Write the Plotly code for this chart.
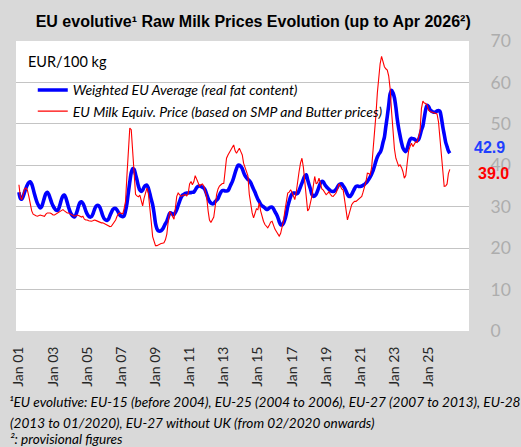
import pandas as pd
import plotly.graph_objects as go

# ---- Weighted EU Average (real fat content), EUR/100 kg, monthly Jan 2001 - Apr 2026
blue_2001 = [33.5, 32.0, 31.8, 32.5, 33.5, 34.5, 35.3, 35.8, 36.0, 35.5, 34.3, 33.0]
blue_2002 = [31.8, 30.8, 30.2, 29.7, 30.0, 31.0, 32.2, 33.2, 33.5, 33.0, 32.0, 31.0]
blue_2003 = [30.2, 29.6, 29.2, 29.1, 29.5, 30.6, 31.8, 32.6, 32.8, 32.2, 31.0, 29.8]
blue_2004 = [28.8, 28.1, 27.7, 27.5, 28.0, 29.0, 30.2, 31.0, 31.2, 30.8, 30.0, 29.0]
blue_2005 = [28.2, 27.7, 27.5, 27.6, 28.2, 29.2, 30.0, 30.3, 30.3, 29.8, 28.8, 27.8]
blue_2006 = [27.1, 26.8, 26.7, 27.0, 27.8, 28.6, 29.3, 29.6, 29.6, 29.2, 28.6, 28.0]
blue_2007 = [27.7, 27.6, 27.8, 29.0, 30.8, 33.5, 36.0, 38.2, 39.2, 39.0, 37.8, 36.5]
blue_2008 = [35.0, 34.0, 33.7, 34.0, 34.7, 35.1, 35.2, 34.5, 33.2, 31.8, 30.5, 28.5]
blue_2009 = [26.0, 24.7, 24.2, 24.1, 24.2, 24.6, 25.2, 25.9, 26.5, 27.5, 28.4, 28.5]
blue_2010 = [28.2, 28.1, 28.6, 29.3, 30.3, 31.3, 32.2, 32.8, 33.0, 33.2, 33.3, 33.3]
blue_2011 = [33.4, 33.4, 33.5, 33.5, 34.0, 34.6, 34.9, 35.0, 34.9, 34.7, 34.5, 34.0]
blue_2012 = [33.0, 32.0, 31.3, 30.9, 30.7, 30.8, 31.2, 31.6, 32.0, 32.8, 33.5, 33.9]
blue_2013 = [33.9, 33.8, 33.8, 33.9, 34.5, 35.3, 36.0, 37.0, 38.2, 39.2, 40.0, 40.0]
blue_2014 = [39.7, 39.2, 38.3, 37.5, 37.0, 36.6, 36.3, 35.8, 35.0, 34.2, 33.5, 32.6]
blue_2015 = [31.8, 31.2, 30.6, 30.2, 30.0, 29.7, 29.4, 29.4, 29.7, 29.9, 29.9, 29.5]
blue_2016 = [28.8, 28.2, 27.5, 26.4, 25.7, 25.6, 26.0, 26.9, 28.3, 30.0, 31.3, 32.4]
blue_2017 = [33.1, 33.3, 33.3, 33.1, 33.2, 33.9, 34.8, 35.7, 36.6, 37.4, 37.7, 36.5]
blue_2018 = [35.3, 34.2, 33.0, 32.5, 32.6, 33.0, 33.8, 34.8, 35.7, 36.1, 36.0, 35.4]
blue_2019 = [34.9, 34.5, 34.2, 33.9, 33.7, 33.7, 33.8, 34.2, 34.8, 35.3, 35.5, 35.5]
blue_2020 = [35.0, 34.5, 33.8, 33.0, 32.5, 32.5, 33.0, 33.7, 34.4, 34.9, 35.0, 34.9]
blue_2021 = [34.9, 35.0, 35.2, 35.4, 35.7, 36.1, 36.6, 37.2, 37.9, 38.7, 39.8, 41.0]
blue_2022 = [42.0, 42.7, 43.1, 44.0, 45.5, 46.8, 49.3, 51.8, 54.5, 57.2, 58.1, 57.5]
blue_2023 = [56.3, 54.0, 51.3, 49.0, 47.2, 45.5, 44.2, 43.6, 43.3, 44.0, 45.3, 46.2]
blue_2024 = [46.5, 46.4, 46.3, 46.0, 45.9, 46.2, 47.2, 48.5, 49.5, 51.5, 53.5, 54.5]
blue_2025 = [54.2, 53.4, 53.1, 52.9, 52.8, 52.9, 53.1, 53.2, 53.0, 51.5, 49.3, 47.5]
blue_2026 = [45.6, 44.5, 43.5, 42.9]

# ---- EU Milk Equiv. Price (based on SMP and Butter prices), EUR/100 kg
red_2001 = [35.3, 32.3, 31.7, 33.5, 34.3, 34.5, 34.0, 32.5, 30.5, 29.0, 28.2, 27.9]
red_2002 = [27.8, 27.7, 27.9, 28.0, 27.9, 27.7, 27.7, 28.2, 28.5, 28.5, 28.5, 28.3]
red_2003 = [28.0, 28.0, 28.2, 28.5, 28.6, 28.9, 29.2, 29.3, 29.0, 28.7, 28.5, 28.5]
red_2004 = [28.3, 28.2, 28.0, 27.7, 27.8, 28.0, 27.9, 27.7, 27.5, 27.7, 27.0, 26.8]
red_2005 = [26.8, 26.6, 26.5, 26.5, 26.6, 26.8, 26.7, 26.5, 26.4, 26.3, 26.1, 26.1]
red_2006 = [25.9, 25.7, 25.6, 25.4, 25.2, 25.3, 25.8, 26.2, 26.8, 27.7, 28.3, 28.5]
red_2007 = [28.3, 28.3, 29.5, 31.3, 37.5, 44.5, 49.0, 48.6, 43.0, 37.0, 33.0, 32.6]
red_2008 = [32.4, 32.8, 31.2, 30.2, 32.0, 33.3, 34.5, 33.2, 30.5, 26.5, 22.8, 21.5]
red_2009 = [20.6, 20.6, 20.8, 21.0, 21.1, 21.2, 21.3, 22.0, 23.4, 26.5, 28.9, 28.3]
red_2010 = [27.8, 27.0, 29.5, 32.5, 33.3, 33.0, 32.5, 32.7, 32.9, 32.9, 32.6, 33.2]
red_2011 = [35.5, 36.1, 35.3, 36.0, 37.5, 36.5, 35.5, 35.0, 35.3, 35.5, 35.0, 33.8]
red_2012 = [32.3, 29.0, 26.8, 26.2, 26.8, 27.5, 30.0, 33.0, 34.3, 35.0, 35.3, 35.6]
red_2013 = [35.6, 38.5, 41.7, 42.5, 43.0, 43.5, 44.3, 44.9, 43.5, 42.9, 43.7, 44.1]
red_2014 = [43.3, 42.5, 40.5, 39.5, 38.5, 37.5, 33.0, 30.5, 28.5, 27.3, 28.5, 29.5]
red_2015 = [29.3, 30.9, 29.0, 27.3, 26.5, 25.7, 25.3, 24.9, 25.5, 26.3, 26.5, 25.5]
red_2016 = [24.6, 24.0, 23.3, 22.9, 23.5, 24.9, 26.5, 29.0, 31.5, 33.3, 33.5, 34.1]
red_2017 = [33.5, 32.3, 31.7, 33.5, 36.5, 38.5, 40.5, 41.7, 39.5, 36.5, 32.5, 29.0]
red_2018 = [29.5, 31.0, 32.5, 35.0, 37.3, 35.5, 35.8, 36.9, 35.5, 34.3, 34.0, 33.3]
red_2019 = [32.9, 33.2, 33.6, 33.0, 32.6, 32.5, 32.8, 33.3, 34.2, 35.5, 35.0, 34.3]
red_2020 = [34.0, 32.0, 29.3, 26.8, 28.0, 29.8, 30.5, 31.0, 31.3, 31.3, 31.6, 32.0]
red_2021 = [32.1, 32.5, 33.5, 34.5, 36.0, 38.1, 38.0, 37.7, 39.5, 43.7, 47.5, 52.1]
red_2022 = [57.5, 62.0, 64.5, 66.3, 65.0, 63.8, 63.3, 63.0, 61.5, 58.5, 53.0, 47.5]
red_2023 = [44.0, 41.7, 40.8, 39.8, 40.1, 39.5, 38.5, 36.9, 37.5, 40.1, 43.5, 44.5]
red_2024 = [45.3, 44.5, 45.0, 45.7, 45.5, 47.3, 48.1, 53.7, 55.5, 55.0, 54.9, 54.5]
red_2025 = [53.3, 53.0, 52.9, 52.7, 52.6, 52.5, 52.4, 50.5, 46.5, 42.5, 37.7, 34.9]
red_2026 = [35.0, 35.5, 38.0, 39.0]

# ---- tick years (labels "Jan 01" ... "Jan 25") and texts
tick_years = [2001, 2003, 2005, 2007, 2009, 2011, 2013, 2015, 2017, 2019, 2021, 2023, 2025]
series_blue_name = "Weighted EU Average (real fat content)"
series_red_name = "EU Milk Equiv. Price (based on SMP and Butter prices)"
title_text = "EU evolutive\u00b9 Raw Milk Prices Evolution (up to Apr 2026\u00b2)"
unit_text = "EUR/100 kg"
footnote_1 = "\u00b9EU evolutive: EU-15 (before 2004), EU-25 (2004 to 2006), EU-27 (2007 to 2013), EU-28"
footnote_2 = "(2013 to 01/2020), EU-27 without UK (from 02/2020 onwards)"
footnote_3 = "\u00b2: provisional figures"

blue = sum([blue_2001, blue_2002, blue_2003, blue_2004, blue_2005, blue_2006, blue_2007,
            blue_2008, blue_2009, blue_2010, blue_2011, blue_2012, blue_2013, blue_2014,
            blue_2015, blue_2016, blue_2017, blue_2018, blue_2019, blue_2020, blue_2021,
            blue_2022, blue_2023, blue_2024, blue_2025, blue_2026], [])
red = sum([red_2001, red_2002, red_2003, red_2004, red_2005, red_2006, red_2007,
           red_2008, red_2009, red_2010, red_2011, red_2012, red_2013, red_2014,
           red_2015, red_2016, red_2017, red_2018, red_2019, red_2020, red_2021,
           red_2022, red_2023, red_2024, red_2025, red_2026], [])
months = pd.date_range("2001-01-01", periods=len(blue), freq="MS")
tick_dates = ["%d-01-01" % y for y in tick_years]

CAL = "Lato, 'Open Sans', sans-serif"
ARIAL = "'Liberation Sans', Arial, sans-serif"

fig = go.Figure()
fig.add_trace(go.Scatter(x=months, y=blue, mode="lines", name="<i>" + series_blue_name + "</i>",
                         line=dict(color="#0000FF", width=3.6, shape="spline", smoothing=0.8)))
fig.add_trace(go.Scatter(x=months, y=red, mode="lines", name="<i>" + series_red_name + "</i>",
                         line=dict(color="#FF0000", width=1.1)))

fig.update_layout(
    width=521, height=447,
    margin=dict(l=10, r=52, t=41, b=116),
    paper_bgcolor="#D9D9D9", plot_bgcolor="#FFFFFF",
    title=dict(text="<b>" + title_text + "</b>", x=0.486, xref="container", xanchor="center",
               y=0.952, yref="container", yanchor="middle",
               font=dict(family=ARIAL, size=16, color="#000000")),
    showlegend=True,
    legend=dict(x=0.037, y=0.885, xanchor="left", yanchor="top", bgcolor="rgba(0,0,0,0)",
                font=dict(family=CAL, size=14, color="#000000"), itemwidth=30, tracegroupgap=0),
    xaxis=dict(type="date", range=["2000-10-30", "2027-05-16"], tickmode="array",
               tickvals=tick_dates, tickformat="%b %y", tickangle=-90, showgrid=False,
               zeroline=False, showline=False, ticks="outside", ticklen=9,
               tickcolor="rgba(0,0,0,0)", tickfont=dict(family=CAL, size=14, color="#262626")),
    yaxis=dict(range=[0, 70], dtick=10, side="right", showgrid=True, gridcolor="#C4C4C4",
               gridwidth=1.3, zeroline=False, showline=False, ticks="outside", ticklen=17,
               tickcolor="rgba(0,0,0,0)", tickfont=dict(family=CAL, size=17.5, color="#ADADAD")),
)

ann = [
    dict(text=unit_text, xref="paper", yref="paper", x=0.022, y=0.9276, xanchor="left", yanchor="middle",
         showarrow=False, font=dict(family=CAL, size=14.5, color="#000000")),
    dict(text="<b>%.1f</b>" % blue[-1], xref="paper", yref="y", x=1.006, y=44.2, xanchor="left",
         yanchor="middle", showarrow=False, font=dict(family=ARIAL, size=16, color="#1F3FFF")),
    dict(text="<b>%.1f</b>" % red[-1], xref="paper", yref="y", x=1.015, y=38.0, xanchor="left",
         yanchor="middle", showarrow=False, font=dict(family=ARIAL, size=16, color="#FF0000")),
    dict(text="<i>" + footnote_1 + "</i>", xref="paper", yref="paper", x=-0.0196, y=-0.246,
         xanchor="left", yanchor="middle", showarrow=False,
         font=dict(family=CAL, size=13.6, color="#000000")),
    dict(text="<i>" + footnote_2 + "</i>", xref="paper", yref="paper", x=-0.0174, y=-0.317,
         xanchor="left", yanchor="middle", showarrow=False,
         font=dict(family=CAL, size=13.6, color="#000000")),
    dict(text="<i>" + footnote_3 + "</i>", xref="paper", yref="paper", x=-0.0174, y=-0.372,
         xanchor="left", yanchor="middle", showarrow=False,
         font=dict(family=CAL, size=13.6, color="#000000")),
]
fig.update_layout(annotations=ann)

fig.write_html("out.html", config={"displayModeBar": False},
               post_script="document.body.style.margin='0';document.body.style.background='#D9D9D9';")
